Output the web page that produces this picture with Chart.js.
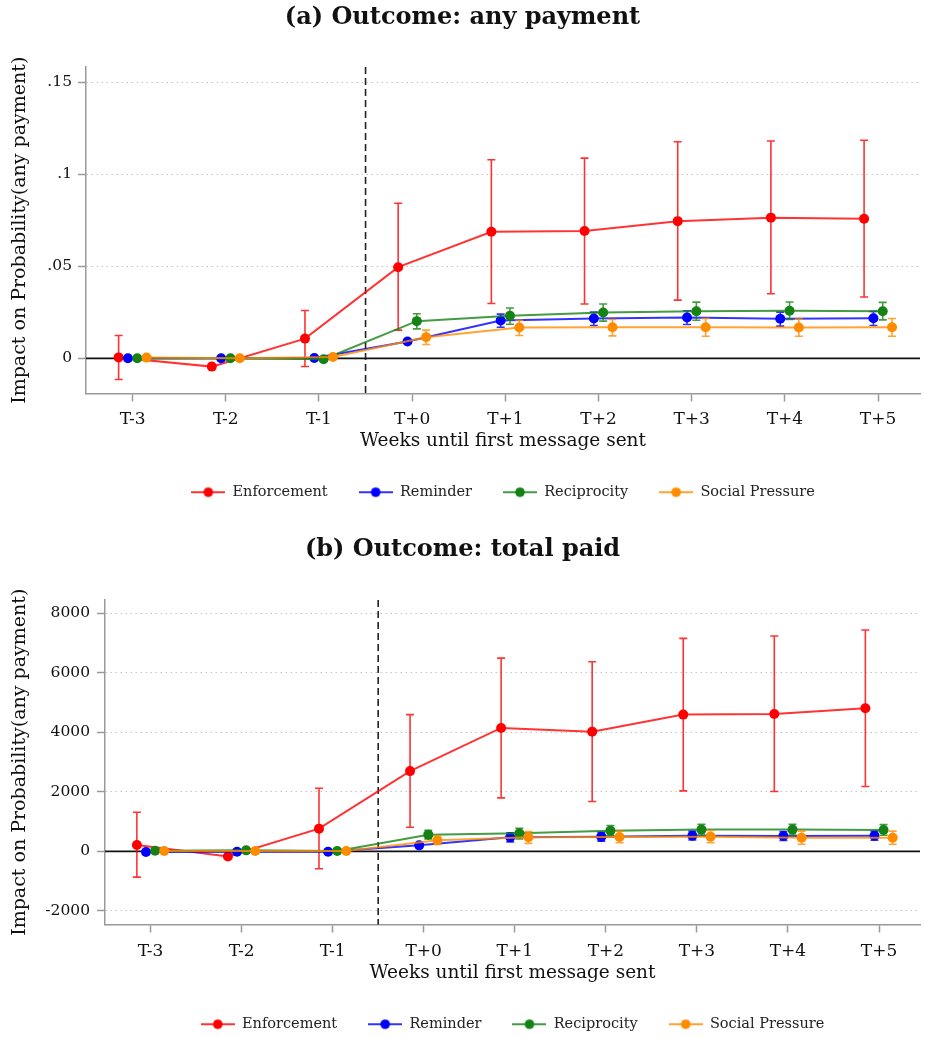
<!DOCTYPE html>
<html>
<head>
<meta charset="utf-8">
<script src="https://cdn.jsdelivr.net/npm/chart.js@4/dist/chart.umd.min.js"></script>
<style>
  html, body { margin: 0; padding: 0; background: #fff; overflow: hidden; }
  #wrap { position: relative; width: 925px; height: 1037px; }
  .panel { position: absolute; left: 0; width: 925px; }
  #panelA { top: 0; height: 540px; }
  #panelB { top: 520px; height: 552px; }
</style>
</head>
<body>
<div id="wrap">
  <div class="panel" id="panelA"><canvas id="chartA"></canvas></div>
  <div class="panel" id="panelB"><canvas id="chartB"></canvas></div>
</div>
<script>
// event-time categories
var weeks = ['T-3', 'T-2', 'T-1', 'T+0', 'T+1', 'T+2', 'T+3', 'T+4', 'T+5'];
var seriesNames = ['Enforcement', 'Reminder', 'Reciprocity', 'Social Pressure'];
var firstMessageAt = 2.5; // between T-1 and T+0

// (a) any payment: point estimates and 95% CI
var anyEnf   = [0.0005, -0.0045, 0.0107, 0.0495, 0.0687, 0.0691, 0.0745, 0.0764, 0.0758];
var anyEnfLo = [-0.0115, null, -0.0044, 0.0153, 0.0298, 0.0295, 0.0316, 0.0351, 0.0333];
var anyEnfHi = [0.0124, null, 0.0260, 0.0842, 0.1078, 0.1087, 0.1176, 0.1180, 0.1184];
var anyRem   = [0, 0, 0.0002, 0.0091, 0.0205, 0.0216, 0.0222, 0.0215, 0.0218];
var anyRemLo = [null, null, null, 0.0083, 0.0169, 0.0178, 0.0184, 0.0175, 0.0178];
var anyRemHi = [null, null, null, 0.0099, 0.0240, 0.0251, 0.0258, 0.0251, 0.0255];
var anyRec   = [0, 0, -0.0005, 0.0202, 0.0231, 0.0249, 0.0256, 0.0258, 0.0256];
var anyRecLo = [null, null, -0.0012, 0.0160, 0.0185, 0.0202, 0.0207, 0.0211, 0.0209];
var anyRecHi = [null, null, 0.0002, 0.0242, 0.0273, 0.0295, 0.0305, 0.0306, 0.0304];
var anySoc   = [0.0004, 0, 0.0007, 0.0115, 0.0167, 0.0169, 0.0169, 0.0167, 0.0169];
var anySocLo = [null, null, 0.0001, 0.0075, 0.0124, 0.0122, 0.0120, 0.0120, 0.0120];
var anySocHi = [null, null, 0.0013, 0.0153, 0.0207, 0.0211, 0.0216, 0.0213, 0.0216];
var anyTicks = [0, 0.05, 0.1, 0.15];
var anyTickLabels = ['0', '.05', '.1', '.15'];

// (b) total paid
var totEnf   = [214, -169, 764, 2698, 4148, 4024, 4597, 4620, 4811];
var totEnfLo = [-865, null, -584, 809, 1798, 1675, 2034, 2012, 2181];
var totEnfHi = [1315, null, 2124, 4597, 6497, 6373, 7160, 7239, 7441];
var totRem   = [-20, -10, -10, 202, 472, 495, 528, 517, 528];
var totRemLo = [null, null, null, 160, 320, 345, 380, 365, 375];
var totRemHi = [null, null, null, 245, 625, 645, 680, 670, 680];
var totRec   = [22, 34, 11, 562, 607, 697, 731, 731, 719];
var totRecLo = [null, null, null, 415, 416, 520, 550, 550, 540];
var totRecHi = [null, null, null, 710, 776, 870, 910, 910, 900];
var totSoc   = [11, 11, 11, 371, 472, 483, 495, 461, 461];
var totSocLo = [null, null, null, 230, 270, 290, 290, 240, 240];
var totSocHi = [null, null, null, 510, 663, 675, 700, 680, 680];
var totTicks = [-2000, 0, 2000, 4000, 6000, 8000];
var totTickLabels = ['-2000', '0', '2000', '4000', '6000', '8000'];

var lineColors = ['rgba(255,0,0,0.8)', 'rgba(0,0,255,0.8)', 'rgba(20,130,20,0.8)', 'rgba(255,140,0,0.8)'];
var dotColors = ['#ff0000', '#0000ff', '#148214', '#ff8c00'];
var DODGE = 0.1;
var SERIF = "'DejaVu Serif', serif";

Chart.defaults.font.family = SERIF;
Chart.defaults.color = '#111';

// little line+dot icons for the legend
var legendIcons = lineColors.map(function (c, i) {
  var cv = document.createElement('canvas');
  cv.width = 34; cv.height = 12;
  var g = cv.getContext('2d');
  g.strokeStyle = c; g.lineWidth = 2;
  g.beginPath(); g.moveTo(0, 6); g.lineTo(34, 6); g.stroke();
  g.fillStyle = dotColors[i];
  g.beginPath(); g.arc(17, 6, 4.8, 0, Math.PI * 2); g.fill();
  return cv;
});

// CI whiskers, drawn under each series
var errorBars = {
  id: 'errorBars',
  beforeDatasetDraw: function (chart, args) {
    var ds = chart.data.datasets[args.index];
    if (!ds.errLo) return;
    var xs = chart.scales.x, ys = chart.scales.y, ctx = chart.ctx;
    ctx.save();
    ctx.strokeStyle = ds.borderColor;
    ctx.lineWidth = 1.6;
    ds.data.forEach(function (p, i) {
      if (ds.errLo[i] == null) return;
      var px = xs.getPixelForValue(p.x);
      var y1 = ys.getPixelForValue(ds.errLo[i]);
      var y2 = ys.getPixelForValue(ds.errHi[i]);
      ctx.beginPath();
      ctx.moveTo(px, y1); ctx.lineTo(px, y2);
      ctx.moveTo(px - 4, y1); ctx.lineTo(px + 4, y1);
      ctx.moveTo(px - 4, y2); ctx.lineTo(px + 4, y2);
      ctx.stroke();
    });
    ctx.restore();
  }
};

// zero line and the dashed "first message" marker
var refLines = {
  id: 'refLines',
  beforeDatasetsDraw: function (chart) {
    var a = chart.chartArea, ctx = chart.ctx;
    var y0 = chart.scales.y.getPixelForValue(0);
    var xv = chart.scales.x.getPixelForValue(firstMessageAt);
    ctx.save();
    ctx.strokeStyle = '#111';
    ctx.lineWidth = 1.6;
    ctx.beginPath(); ctx.moveTo(a.left, y0); ctx.lineTo(a.right, y0); ctx.stroke();
    ctx.strokeStyle = '#222';
    ctx.setLineDash([7, 4]);
    ctx.beginPath(); ctx.moveTo(xv, a.top); ctx.lineTo(xv, a.bottom); ctx.stroke();
    ctx.restore();
  }
};

function series(vals, lo, hi, k) {
  return {
    label: seriesNames[k],
    data: vals.map(function (v, i) { return { x: i + (k - 1.5) * DODGE, y: v }; }),
    errLo: lo,
    errHi: hi,
    borderColor: lineColors[k],
    backgroundColor: dotColors[k],
    pointBackgroundColor: dotColors[k],
    pointBorderWidth: 0,
    pointRadius: 5,
    borderWidth: 2,
    tension: 0,
    order: 4 - k
  };
}

function makeChart(id, o) {
  return new Chart(document.getElementById(id), {
    type: 'line',
    data: { datasets: o.datasets },
    plugins: [errorBars, refLines],
    options: {
      responsive: true,
      maintainAspectRatio: false,
      animation: false,
      layout: { padding: { left: 0, right: 0, top: 0, bottom: 30.5 } },
      plugins: {
        tooltip: { enabled: false },
        title: {
          display: true,
          text: o.title,
          font: { family: SERIF, size: 24, weight: 'bold' },
          color: '#111',
          padding: { top: o.titleTop, bottom: o.titleBottom }
        },
        legend: {
          position: 'bottom',
          fullSize: false,
          labels: {
            usePointStyle: true,
            pointStyleWidth: 34,
            padding: 31,
            color: '#222',
            font: { family: SERIF, size: 14.5 },
            generateLabels: function (chart) {
              return chart.data.datasets.map(function (ds, i) {
                return {
                  text: ds.label,
                  pointStyle: legendIcons[i],
                  fillStyle: dotColors[i],
                  strokeStyle: dotColors[i],
                  lineWidth: 0,
                  hidden: false,
                  datasetIndex: i,
                  fontColor: '#222'
                };
              });
            }
          }
        }
      },
      scales: {
        x: {
          type: 'linear',
          min: -0.5,
          max: 8.45,
          afterBuildTicks: function (s) { s.ticks = weeks.map(function (w, i) { return { value: i }; }); },
          afterFit: function (s) { s.height = o.xHeight; },
          ticks: {
            padding: o.xTickPad,
            font: { size: 17 },
            color: '#111',
            callback: function (v, i) { return weeks[i]; }
          },
          grid: { drawOnChartArea: false, drawTicks: true, tickLength: 8, tickColor: '#999', tickWidth: 1.5 },
          border: { display: true, color: '#999', width: 1.5 },
          title: {
            display: true,
            text: 'Weeks until first message sent',
            font: { size: 18.5 },
            color: '#111',
            padding: { top: 0, bottom: 1.5 }
          }
        },
        y: {
          type: 'linear',
          min: o.yMin,
          max: o.yMax,
          afterBuildTicks: function (s) { s.ticks = o.yTicks.map(function (v) { return { value: v }; }); },
          afterFit: function (s) { s.width = o.yWidth; },
          ticks: {
            padding: o.yTickPad,
            font: { size: 15.5 },
            color: '#111',
            callback: function (v, i) { return o.yLabels[i]; }
          },
          grid: {
            color: function (c) { return c.tick && c.tick.value === 0 ? 'rgba(0,0,0,0)' : '#c4c4c4'; },
            lineWidth: 1,
            tickLength: 8,
            tickColor: '#999',
            tickWidth: 1.5
          },
          border: { display: true, color: '#999', width: 1.5, dash: [1.5, 3.5] },
          title: {
            display: true,
            text: 'Impact on Probability(any payment)',
            font: { size: 19 },
            color: '#111',
            padding: { top: 8.6, bottom: 0 }
          }
        }
      }
    }
  });
}

makeChart('chartA', {
  title: '(a) Outcome: any payment',
  titleTop: 3.6, titleBottom: 34.6,
  xHeight: 60.5, xTickPad: 7.8,
  yWidth: 86, yTickPad: 6,
  yMin: -0.0191, yMax: 0.1582,
  yTicks: anyTicks, yLabels: anyTickLabels,
  datasets: [
    series(anyEnf, anyEnfLo, anyEnfHi, 0),
    series(anyRem, anyRemLo, anyRemHi, 1),
    series(anyRec, anyRecLo, anyRecHi, 2),
    series(anySoc, anySocLo, anySocHi, 3)
  ]
});

makeChart('chartB', {
  title: '(b) Outcome: total paid',
  titleTop: 15.6, titleBottom: 35.6,
  xHeight: 61.5, xTickPad: 8.8,
  yWidth: 105, yTickPad: 7,
  yMin: -2458, yMax: 8449,
  yTicks: totTicks, yLabels: totTickLabels,
  datasets: [
    series(totEnf, totEnfLo, totEnfHi, 0),
    series(totRem, totRemLo, totRemHi, 1),
    series(totRec, totRecLo, totRecHi, 2),
    series(totSoc, totSocLo, totSocHi, 3)
  ]
});
</script>
</body>
</html>
